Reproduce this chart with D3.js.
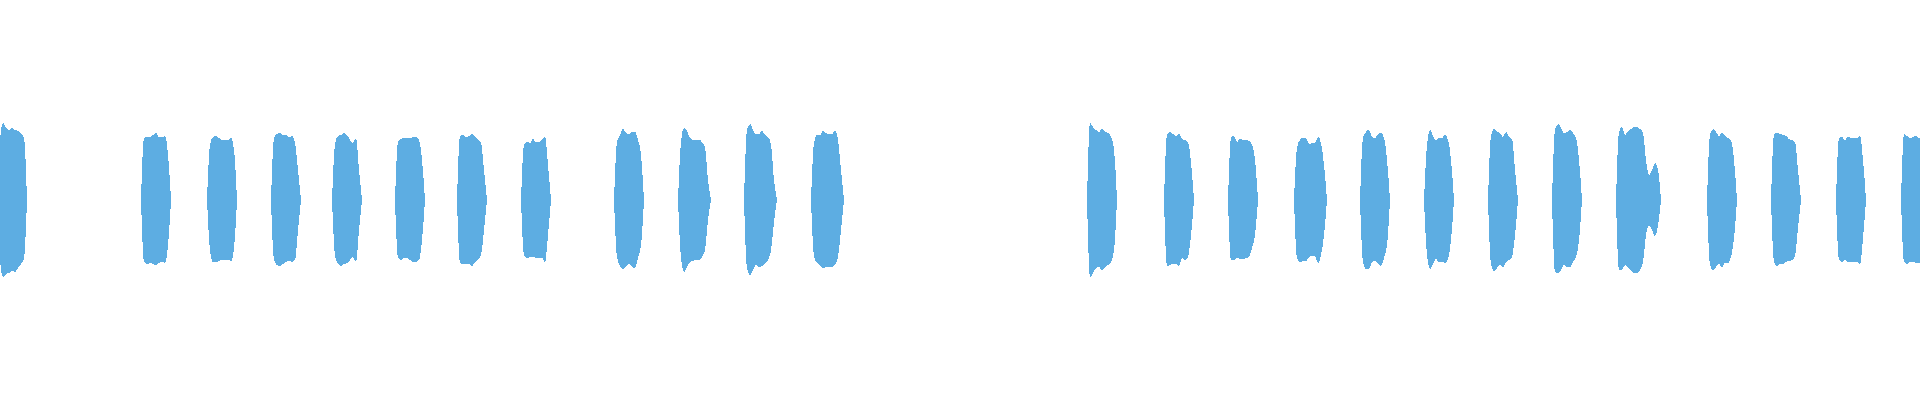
<!DOCTYPE html>
<meta charset="utf-8">
<style>
body {
    margin: 0;
    background: #ffffff;
}
.wave {
    fill: #5dade2;
    stroke: none;
    shape-rendering: crispEdges;
}
</style>
<body>
<script src="https://d3js.org/d3.v7.min.js"></script>
<script>

    // frames between two envelope readings
    var step = 3;

    // first frame of every burst
    var starts = [-3, 141, 207, 271, 332, 395, 457, 521, 614, 678, 744, 811,
                  1087, 1164, 1228, 1294, 1360, 1424, 1488, 1552, 1616, 1707, 1771, 1836, 1901];

    // positive peak per reading, % of full scale
    var highs = [
        [0, 30, 38.5, 36, 35, 36, 35, 34.5, 33.5, 31, 0],
        [0, 31, 31.5, 31.5, 32.5, 33.5, 31.5, 31.5, 32, 22.5, 0],
        [0, 27.5, 31.5, 32, 31, 30, 30, 30, 31, 25, 0],
        [0, 31, 33, 33.5, 32.5, 32.5, 31.5, 32, 28.5, 15, 0],
        [0, 27.5, 32, 32.5, 33.5, 32.5, 30, 28.5, 31, 15, 0],
        [0, 29, 30.5, 31, 31, 31, 31.5, 31.5, 30, 20, 0],
        [0, 32, 32.5, 31.5, 32, 33, 32, 30, 28.5, 15, 0],
        [0, 27.5, 29, 28.5, 30.5, 29, 29, 30, 31.5, 17.5, 0],
        [0, 29, 32.5, 35.5, 33.5, 33, 34, 34, 30, 22.5, 0],
        [0, 29, 36, 34.5, 31, 30, 30, 30, 29, 26, 10, 0],
        [0, 35, 38, 35, 33, 33, 34.5, 32.5, 31.5, 27.5, 10, 0],
        [0, 28.5, 32.5, 32.5, 34.5, 33.5, 33, 33, 34.5, 30, 15, 0],
        [0, 38.5, 36.5, 35, 34, 35.5, 34, 33.5, 31.5, 25, 0],
        [0, 32.5, 34, 33, 32, 33, 30.5, 30, 29, 18.5, 0],
        [0, 31, 32, 29, 30.5, 30, 30, 29.5, 27.5, 20, 0],
        [0, 26, 30, 31, 31, 28, 28.5, 28.5, 31.5, 28.5, 17.5, 0],
        [0, 31, 34, 35, 31.5, 31, 33, 33.5, 31, 20, 0],
        [0, 27.5, 35, 32, 30, 31, 31, 32.5, 30, 20, 0],
        [0, 32, 35.5, 34, 33.5, 31.5, 34, 31.5, 30.5, 15, 0],
        [0, 35, 38, 36, 33.5, 34, 35, 33.5, 31, 20, 0],
        [0, 34, 36.5, 32.5, 34.5, 35.5, 36.5, 36.5, 35.5, 33.5, 20, 12.5, 15, 18.5, 15, 0],
        [0, 32.5, 35.5, 34, 32, 33.5, 32, 31, 30, 20, 0],
        [0, 32.5, 33.5, 33, 32.5, 32, 30.5, 30, 29, 15, 0],
        [0, 31, 31.5, 30, 31.5, 31, 31, 31, 32, 20, 0],
        [0, 33, 32, 31, 31.5, 32, 31, 31]
    ];

    // depth of the negative peak per reading, % of full scale
    var lows = [
        [0, 30, 38.5, 37, 36.5, 35.5, 36, 34, 32, 29, 0],
        [0, 31, 32, 31.5, 32, 32.5, 31.5, 31, 31.5, 22.5, 0],
        [0, 25, 31, 31, 30.5, 30, 30, 30, 30.5, 24, 0],
        [0, 30, 32.5, 33, 32, 31, 30.5, 31, 30, 15, 0],
        [0, 27.5, 32, 33, 32, 31.5, 30, 28.5, 31, 15, 0],
        [0, 29, 30, 29, 29, 30, 31, 31, 30, 20, 0],
        [0, 31.5, 32, 32, 32, 33, 31, 30, 27.5, 15, 0],
        [0, 27.5, 29, 28.5, 28.5, 29, 29, 29, 31, 17.5, 0],
        [0, 28.5, 33, 34.5, 33.5, 32, 33.5, 34, 29, 22.5, 0],
        [0, 29, 36, 33.5, 31, 30.5, 30, 30, 28.5, 25, 10, 0],
        [0, 34, 37.5, 35, 32.5, 33.5, 33, 31.5, 30, 25, 11, 0],
        [0, 28, 31.5, 32.5, 34, 33.5, 33.5, 33.5, 32.5, 28.5, 15, 0],
        [0, 38.5, 36.5, 34, 33.5, 35, 33.5, 32.5, 31, 25, 0],
        [0, 33, 32.5, 32, 32, 33, 29, 30, 28.5, 17.5, 0],
        [0, 30, 30, 29, 29.5, 29.5, 29, 28.5, 24, 17.5, 0],
        [0, 29, 31, 30.5, 30.5, 28.5, 28, 28, 31.5, 27.5, 17.5, 0],
        [0, 31, 34.5, 34.5, 31, 30.5, 32, 33, 29, 22.5, 0],
        [0, 27.5, 34.5, 32, 29.5, 31, 31, 31.5, 29.5, 20, 0],
        [0, 32, 35.5, 34, 32.5, 33.5, 31, 30, 28.5, 17.5, 0],
        [0, 36, 36.5, 35, 32.5, 33.5, 33.5, 31, 28.5, 20, 0],
        [0, 35, 35, 32.5, 34, 35, 36.5, 36.5, 35, 31, 17.5, 13, 15, 18, 12.5, 0],
        [0, 32.5, 35, 33.5, 32, 33.5, 31.5, 31.5, 28.5, 19, 0],
        [0, 31, 33, 32, 32, 31, 30.5, 30, 28, 14, 0],
        [0, 30, 31, 30, 31, 31, 31, 31, 32, 19, 0],
        [0, 31, 32, 31, 31, 31.5, 31.5, 31]
    ];

    var totalFrames = 1920;

    var width = 1920,
        height = 400;

    var x = d3.scaleLinear().domain([0, totalFrames]).range([0, width]);
    var y = d3.scaleLinear().domain([-100, 100]).range([height, 0]);

    var svg = d3.select("body").append("svg")
            .attr("width", width)
            .attr("height", height);

    // turn the readings of every burst into frame / peak points
    var bursts = starts.map(function(s, i) {
        return highs[i].map(function(h, j) {
            return {frame: s + j * step, hi: h, lo: lows[i][j]};
        });
    });

    var area = d3.area()
            .curve(d3.curveMonotoneX)
            .x(function(d) { return x(d.frame); })
            .y0(function(d) { return y(-d.lo); })
            .y1(function(d) { return y(d.hi); });

    svg.selectAll(".wave")
            .data(bursts)
            .join("path")
            .attr("class", "wave")
            .attr("d", area);

</script>
</body>
